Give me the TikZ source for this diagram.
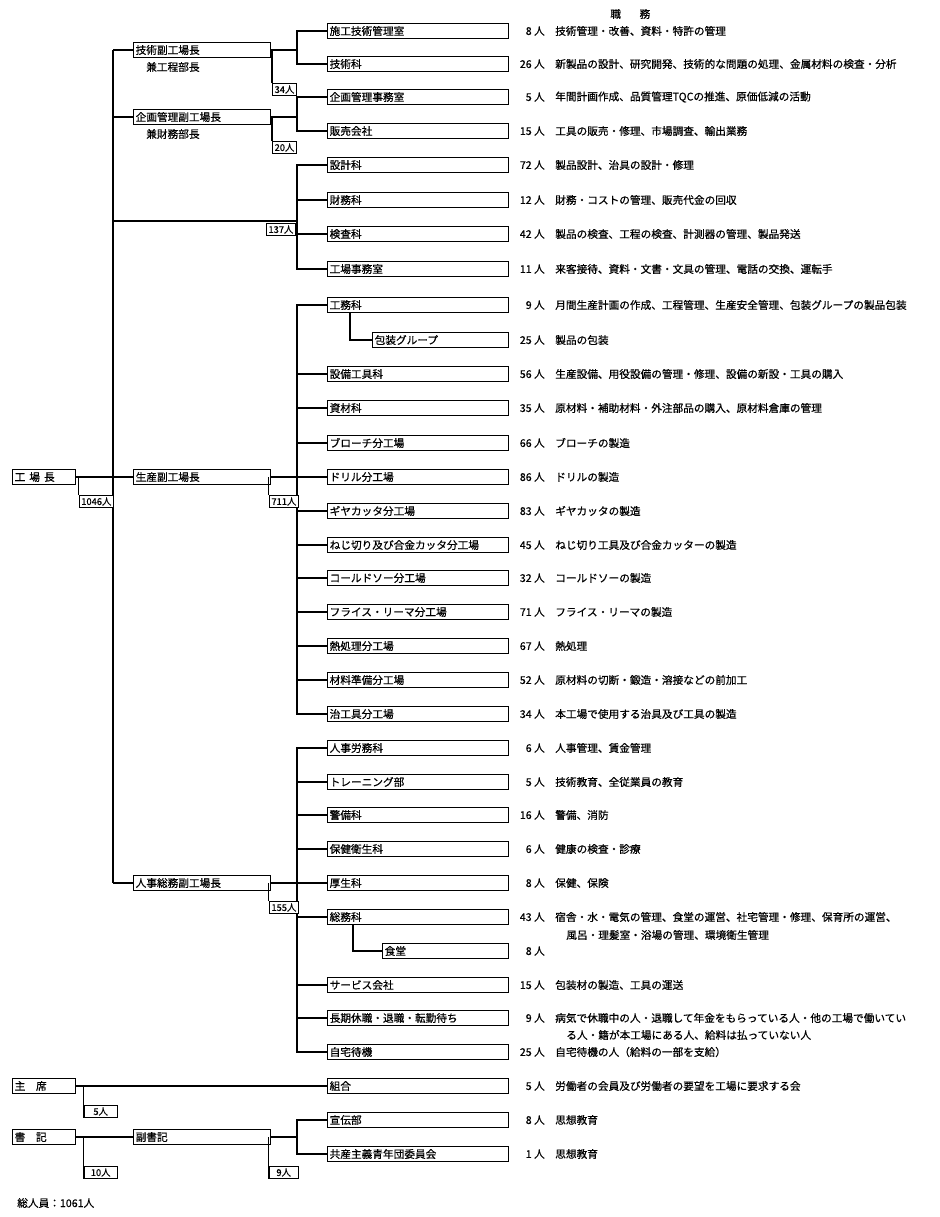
\documentclass[tikz,border=0pt]{standalone}
\usepackage{fontspec}
\setmainfont{Noto Sans CJK JP}[FakeBold=0.6]
\usepackage{tikz}
\usetikzlibrary{positioning,calc}

\tikzset{
  box/.style={draw, line width=1pt, anchor=west, align=left, inner xsep=1.5pt,
    inner ysep=0pt, minimum height=11.5pt, font=\fontsize{8}{9}\selectfont},
  unit/.style={box, text width=132.5pt},
  deputy/.style={box, text width=99.5pt},
  head/.style={box, text width=44pt},
  cnt/.style={draw, line width=1pt, fill=white, anchor=north east, inner xsep=1.5pt,
    inner ysep=1.3pt, font=\fontsize{7}{8}\selectfont},
  num/.style={anchor=east, inner sep=0pt, font=\fontsize{8}{9}\selectfont},
  job/.style={anchor=west, inner sep=0pt, font=\fontsize{8}{9}\selectfont},
  link/.style={line width=0.8pt},
  trunk/.style={line width=1.4pt},
}

\begin{document}
\begin{tikzpicture}[x=0.75pt, y=-0.75pt]
  \useasboundingbox (0,0) rectangle (939,1217);
  % column heading
  \node[job] (hdr) at (610,14) {職\hspace{14pt}務};

  % factory head and deputies
  \node[head] (gm) at (12,477) {工\hspace{3pt}場\hspace{3pt}長};
  \node[deputy] (tech) at (133,50) {技術副工場長};
  \node[job] (tech2) at (146,67) {兼工程部長};
  \node[deputy] (plan) at (133,117) {企画管理副工場長};
  \node[job] (plan2) at (146,134) {兼財務部長};
  \node[deputy] (prod) at (133,477) {生産副工場長};
  \node[deputy] (pers) at (133,883) {人事総務副工場長};
  \coordinate (tk) at (113,477);
  \draw[link] (tech.west) -- (tech.west -| tk);
  \draw[link] (pers.west) -- (pers.west -| tk);
  \draw[trunk] (tech.west -| tk) -- (pers.west -| tk);
  \draw[link] (plan.west) -- (plan.west -| tk);
  \draw[link] (gm.east) -- (prod.west);
  \node[cnt] (gm-c) at (114,495) {1046人};
  \draw[link] (gm-c.north west) -- (gm-c.north west |- gm.east);

  % technical deputy
  \node[unit] (sekou) at (327,31) {施工技術管理室};
  \node[unit] (gijutsu) at (327,64) {技術科};
  \coordinate (brT) at (297,50);
  \draw[link] (tech.east) -- (brT);
  \draw[link] (brT) |- (sekou.west);
  \draw[link] (brT) |- (gijutsu.west);
  \draw[trunk] (sekou.west -| brT) -- (gijutsu.west -| brT);
  \node[cnt] (tech-c) at (297,83) {34人};
  \draw[link] (tech-c.north west) -- (tech-c.north west |- tech.east);
  \node[num] (sekou-n) at (545,31) {8 人};
  \node[job] (sekou-d) at (555,31) {技術管理・改善、資料・特許の管理};
  \node[num] (gijutsu-n) at (545,64) {26 人};
  \node[job] (gijutsu-d) at (555,64) {新製品の設計、研究開発、技術的な問題の処理、金属材料の検査・分析};

  % planning deputy
  \node[unit] (kikaku) at (327,97) {企画管理事務室};
  \node[unit] (hanbai) at (327,131) {販売会社};
  \coordinate (brK) at (297,117);
  \draw[link] (plan.east) -- (brK);
  \draw[link] (brK) |- (kikaku.west);
  \draw[link] (brK) |- (hanbai.west);
  \draw[trunk] (kikaku.west -| brK) -- (hanbai.west -| brK);
  \node[cnt] (plan-c) at (297,141) {20人};
  \draw[link] (plan-c.north west) -- (plan-c.north west |- plan.east);
  \node[num] (kikaku-n) at (545,97) {5 人};
  \node[job] (kikaku-d) at (555,97) {年間計画作成、品質管理TQCの推進、原価低減の活動};
  \node[num] (hanbai-n) at (545,131) {15 人};
  \node[job] (hanbai-d) at (555,131) {工具の販売・修理、市場調査、輸出業務};

  % sections under the factory head
  \node[unit] (sekkei) at (327,165) {設計科};
  \node[unit] (zaimu) at (327,200) {財務科};
  \node[unit] (kensa) at (327,234) {検査科};
  \node[unit] (jimu) at (327,269) {工場事務室};
  \coordinate (brA) at (297,221);
  \draw[link] (brA -| tk) -- (brA);
  \foreach \c in {sekkei,zaimu,kensa,jimu}
    \draw[link] (brA) |- (\c.west);
  \draw[trunk] (sekkei.west -| brA) -- (jimu.west -| brA);
  \node[cnt] (adm-c) at (296,223) {137人};
  \node[num] (sekkei-n) at (545,165) {72 人};
  \node[job] (sekkei-d) at (555,165) {製品設計、治具の設計・修理};
  \node[num] (zaimu-n) at (545,200) {12 人};
  \node[job] (zaimu-d) at (555,200) {財務・コストの管理、販売代金の回収};
  \node[num] (kensa-n) at (545,234) {42 人};
  \node[job] (kensa-d) at (555,234) {製品の検査、工程の検査、計測器の管理、製品発送};
  \node[num] (jimu-n) at (545,269) {11 人};
  \node[job] (jimu-d) at (555,269) {来客接待、資料・文書・文具の管理、電話の交換、運転手};

  % production deputy
  \node[unit] (koumu) at (327,305) {工務科};
  \node[box, text width=99pt] (housou) at (372,340) {包装グループ};
  \node[unit] (setsubi) at (327,374) {設備工具科};
  \node[unit] (shizai) at (327,408) {資材科};
  \node[unit] (broach) at (327,443) {ブローチ分工場};
  \node[unit] (drill) at (327,477) {ドリル分工場};
  \node[unit] (gear) at (327,511) {ギヤカッタ分工場};
  \node[unit] (neji) at (327,545) {ねじ切り及び合金カッタ分工場};
  \node[unit] (cold) at (327,578) {コールドソー分工場};
  \node[unit] (mill) at (327,612) {フライス・リーマ分工場};
  \node[unit] (heat) at (327,646) {熱処理分工場};
  \node[unit] (zairyo) at (327,680) {材料準備分工場};
  \node[unit] (jigu) at (327,714) {治工具分工場};
  \coordinate (brP) at (297,477);
  \draw[link] (prod.east) -- (drill.west);
  \foreach \c in {koumu,setsubi,shizai,broach,gear,neji,cold,mill,heat,zairyo,jigu}
    \draw[link] (brP) |- (\c.west);
  \draw[trunk] (koumu.west -| brP) -- (jigu.west -| brP);
  \draw[trunk] (koumu.south west) ++(23,0) |- (housou.west);
  \node[cnt] (prod-c) at (299,495) {711人};
  \draw[link] (prod-c.north west) -- (prod-c.north west |- prod.east);
  \node[num] (koumu-n) at (545,305) {9 人};
  \node[job] (koumu-d) at (555,305) {月間生産計画の作成、工程管理、生産安全管理、包装グループの製品包装};
  \node[num] (housou-n) at (545,340) {25 人};
  \node[job] (housou-d) at (555,340) {製品の包装};
  \node[num] (setsubi-n) at (545,374) {56 人};
  \node[job] (setsubi-d) at (555,374) {生産設備、用役設備の管理・修理、設備の新設・工具の購入};
  \node[num] (shizai-n) at (545,408) {35 人};
  \node[job] (shizai-d) at (555,408) {原材料・補助材料・外注部品の購入、原材料倉庫の管理};
  \node[num] (broach-n) at (545,443) {66 人};
  \node[job] (broach-d) at (555,443) {ブローチの製造};
  \node[num] (drill-n) at (545,477) {86 人};
  \node[job] (drill-d) at (555,477) {ドリルの製造};
  \node[num] (gear-n) at (545,511) {83 人};
  \node[job] (gear-d) at (555,511) {ギヤカッタの製造};
  \node[num] (neji-n) at (545,545) {45 人};
  \node[job] (neji-d) at (555,545) {ねじ切り工具及び合金カッターの製造};
  \node[num] (cold-n) at (545,578) {32 人};
  \node[job] (cold-d) at (555,578) {コールドソーの製造};
  \node[num] (mill-n) at (545,612) {71 人};
  \node[job] (mill-d) at (555,612) {フライス・リーマの製造};
  \node[num] (heat-n) at (545,646) {67 人};
  \node[job] (heat-d) at (555,646) {熱処理};
  \node[num] (zairyo-n) at (545,680) {52 人};
  \node[job] (zairyo-d) at (555,680) {原材料の切断・鍛造・溶接などの前加工};
  \node[num] (jigu-n) at (545,714) {34 人};
  \node[job] (jigu-d) at (555,714) {本工場で使用する治具及び工具の製造};

  % personnel deputy
  \node[unit] (jinji) at (327,748) {人事労務科};
  \node[unit] (train) at (327,782) {トレーニング部};
  \node[unit] (keibi) at (327,815) {警備科};
  \node[unit] (hoken) at (327,849) {保健衛生科};
  \node[unit] (kousei) at (327,883) {厚生科};
  \node[unit] (soumu) at (327,917) {総務科};
  \node[box, text width=91.5pt] (shokudo) at (382,951) {食堂};
  \node[unit] (service) at (327,985) {サービス会社};
  \node[unit] (kyushoku) at (327,1018) {長期休職・退職・転勤待ち};
  \node[unit] (taiki) at (327,1052) {自宅待機};
  \coordinate (brH) at (297,883);
  \draw[link] (pers.east) -- (kousei.west);
  \foreach \c in {jinji,train,keibi,hoken,soumu,service,kyushoku,taiki}
    \draw[link] (brH) |- (\c.west);
  \draw[trunk] (jinji.west -| brH) -- (taiki.west -| brH);
  \draw[trunk] (soumu.south west) ++(26,0) |- (shokudo.west);
  \node[cnt] (pers-c) at (299,901) {155人};
  \draw[link] (pers-c.north west) -- (pers-c.north west |- pers.east);
  \node[num] (jinji-n) at (545,748) {6 人};
  \node[job] (jinji-d) at (555,748) {人事管理、賃金管理};
  \node[num] (train-n) at (545,782) {5 人};
  \node[job] (train-d) at (555,782) {技術教育、全従業員の教育};
  \node[num] (keibi-n) at (545,815) {16 人};
  \node[job] (keibi-d) at (555,815) {警備、消防};
  \node[num] (hoken-n) at (545,849) {6 人};
  \node[job] (hoken-d) at (555,849) {健康の検査・診療};
  \node[num] (kousei-n) at (545,883) {8 人};
  \node[job] (kousei-d) at (555,883) {保健、保険};
  \node[num] (soumu-n) at (545,917) {43 人};
  \node[job] (soumu-d) at (555,917) {宿舎・水・電気の管理、食堂の運営、社宅管理・修理、保育所の運営、};
  \node[job] (soumu-d2) at (566,935) {風呂・理髪室・浴場の管理、環境衛生管理};
  \node[num] (shokudo-n) at (545,951) {8 人};
  \node[num] (service-n) at (545,985) {15 人};
  \node[job] (service-d) at (555,985) {包装材の製造、工具の運送};
  \node[num] (kyushoku-n) at (545,1018) {9 人};
  \node[job] (kyushoku-d) at (555,1018) {病気で休職中の人・退職して年金をもらっている人・他の工場で働いてい};
  \node[job] (kyushoku-d2) at (566,1035) {る人・籍が本工場にある人、給料は払っていない人};
  \node[num] (taiki-n) at (545,1052) {25 人};
  \node[job] (taiki-d) at (555,1052) {自宅待機の人（給料の一部を支給）};

  % union chairman
  \node[head] (chair) at (12,1086) {主\hspace{8pt}席};
  \node[unit] (kumiai) at (327,1086) {組合};
  \draw[link] (chair.east) -- (kumiai.west);
  \node[cnt, minimum width=25pt] (chair-c) at (118,1105) {5人};
  \draw[link] (chair-c.north west) -- (chair-c.north west |- chair.east);
  \node[num] (kumiai-n) at (545,1086) {5 人};
  \node[job] (kumiai-d) at (555,1086) {労働者の会員及び労働者の要望を工場に要求する会};

  % party secretary
  \node[head] (secr) at (12,1137) {書\hspace{8pt}記};
  \node[deputy] (fuku) at (133,1137) {副書記};
  \node[unit] (senden) at (327,1120) {宣伝部};
  \node[unit] (seinen) at (327,1154) {共産主義青年団委員会};
  \draw[link] (secr.east) -- (fuku.west);
  \coordinate (brS) at (297,1137);
  \draw[link] (fuku.east) -- (brS);
  \draw[link] (brS) |- (senden.west);
  \draw[link] (brS) |- (seinen.west);
  \draw[trunk] (senden.west -| brS) -- (seinen.west -| brS);
  \node[cnt, minimum width=25pt] (secr-c) at (118,1166) {10人};
  \draw[link] (secr-c.north west) -- (secr-c.north west |- secr.east);
  \node[cnt, minimum width=22pt] (fuku-c) at (299,1166) {9人};
  \draw[link] (fuku-c.north west) -- (fuku-c.north west |- fuku.east);
  \node[num] (senden-n) at (545,1120) {8 人};
  \node[job] (senden-d) at (555,1120) {思想教育};
  \node[num] (seinen-n) at (545,1154) {1 人};
  \node[job] (seinen-d) at (555,1154) {思想教育};

  % total
  \node[job] (total) at (17,1203) {総人員：1061人};
\end{tikzpicture}
\end{document}
